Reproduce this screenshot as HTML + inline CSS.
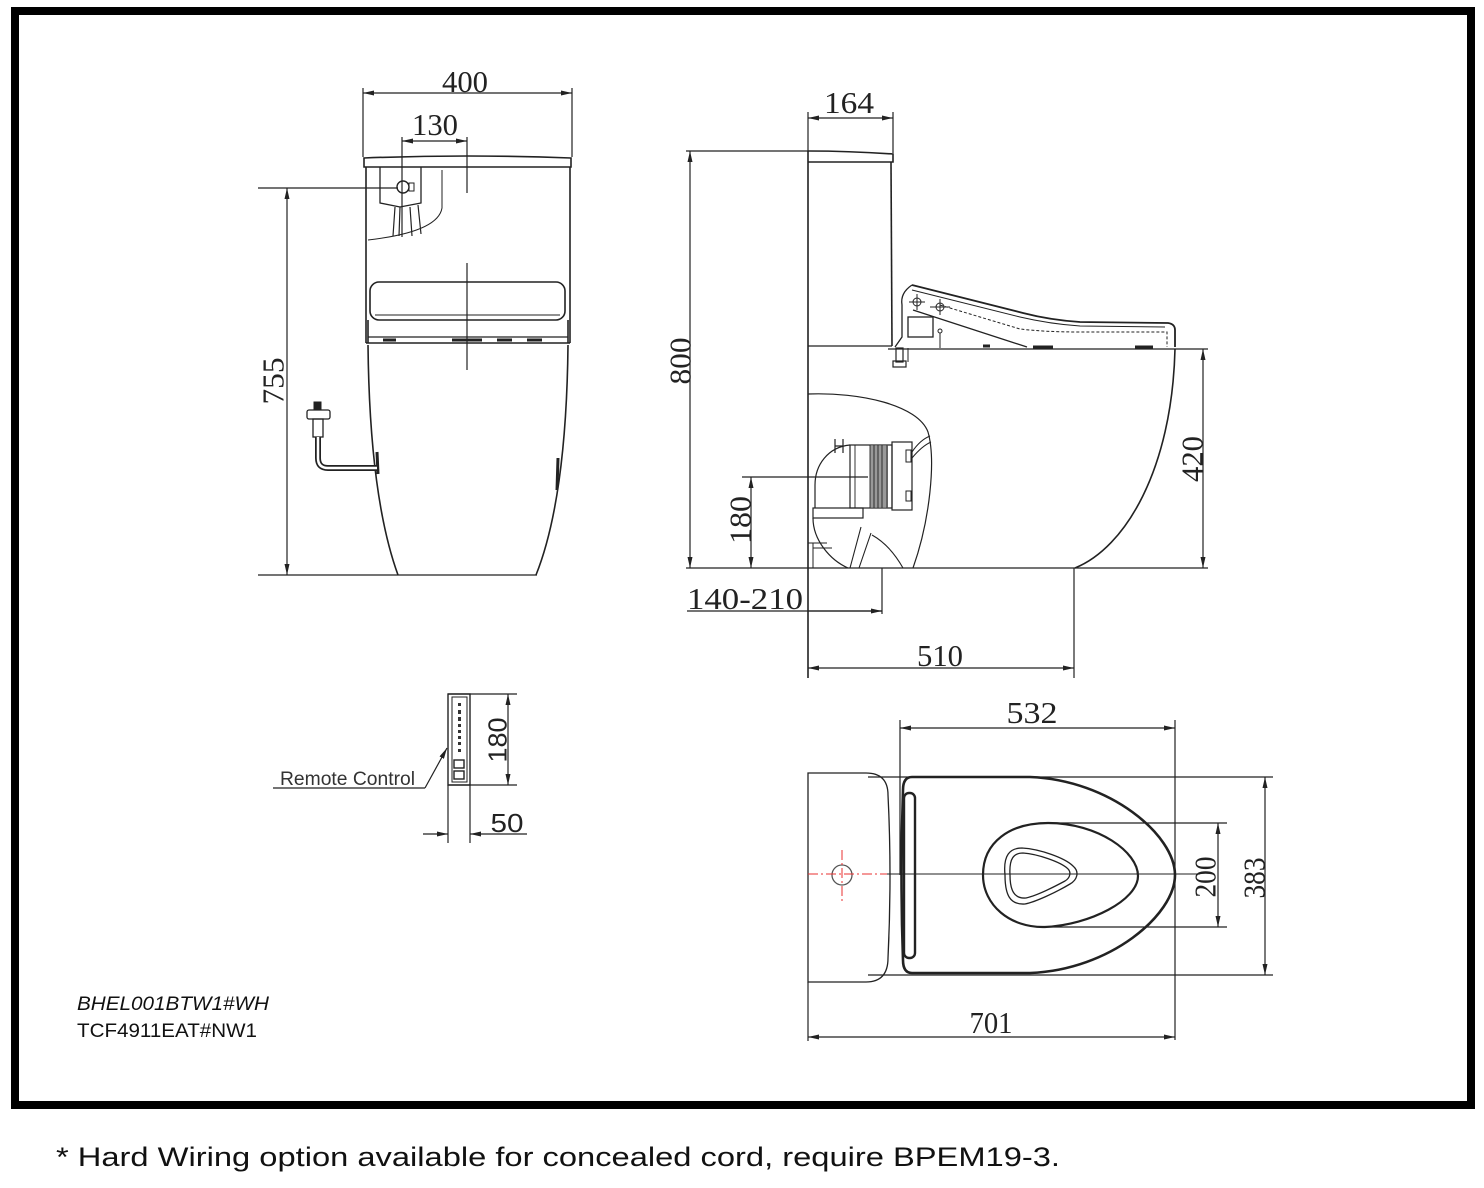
<!DOCTYPE html>
<html><head><meta charset="utf-8"><style>
html,body{margin:0;padding:0;background:#fff;}
svg{display:block;}
.d{font-family:"Liberation Serif",serif;font-size:31px;fill:#222;}
</style></head><body>
<svg width="1484" height="1188" viewBox="0 0 1484 1188" xmlns="http://www.w3.org/2000/svg">
<defs>
<marker id="a" viewBox="0 0 11 5" refX="11" refY="2.5" markerWidth="11" markerHeight="5" markerUnits="userSpaceOnUse" orient="auto-start-reverse"><path d="M0,0 L11,2.5 L0,5 z" fill="#222"/></marker>
</defs>
<rect x="0" y="0" width="1484" height="1188" fill="#fff"/>
<rect x="15" y="11" width="1456" height="1094" fill="none" stroke="#000" stroke-width="8"/>

<!-- FRONT VIEW -->
<g fill="none" stroke="#222" stroke-width="1.2">
<line x1="363" y1="93" x2="572" y2="93" marker-start="url(#a)" marker-end="url(#a)"/>
<line x1="363" y1="88" x2="363" y2="157"/>
<line x1="572" y1="88" x2="572" y2="157"/>
<line x1="402" y1="141" x2="467" y2="141" marker-start="url(#a)" marker-end="url(#a)"/>
<line x1="402" y1="137" x2="402" y2="237"/>
<line x1="467" y1="137" x2="467" y2="193"/>
<line x1="467" y1="263" x2="467" y2="370"/>
<line x1="258" y1="188" x2="398" y2="188"/>
<line x1="287" y1="188" x2="287" y2="575" marker-start="url(#a)" marker-end="url(#a)"/>
<line x1="258" y1="575" x2="537" y2="575"/>
</g>
<g fill="none" stroke="#222" stroke-width="1.6">
<path d="M364,158 Q467,154 571,158 L571,167 L364,167 Z"/>
<line x1="366" y1="167" x2="366" y2="343"/>
<line x1="570" y1="167" x2="570" y2="343"/>
<path d="M380,167 L380,203 L400,207 L421,203 L421,167" stroke-width="1.3"/>
<path d="M442,170 L442,208 Q438,232 368,240" stroke-width="1"/>
<circle cx="403" cy="187" r="6" stroke-width="1.4"/>
<rect x="409" y="183" width="5" height="8" stroke-width="1"/>
<path d="M395,207 L393,236 M400,207 L399,236 M410,207 L412,236 M418,205 L421,234" stroke-width="1.2"/>
<rect x="370" y="282" width="195" height="38" rx="9"/>
<line x1="375" y1="315" x2="560" y2="315" stroke-width="1"/>
<line x1="368" y1="320" x2="368" y2="343"/>
<line x1="568" y1="320" x2="568" y2="343"/>
<line x1="368" y1="337" x2="568" y2="337" stroke-width="1.2"/>
<line x1="366" y1="343" x2="570" y2="343" stroke-width="1.4"/>
<path d="M383,340 L396,340 M452,340 L482,340 M497,340 L512,340 M527,340 L542,340" stroke-width="3"/>
<path d="M368,345 C369,440 378,520 398,575"/>
<path d="M568,345 C567,440 558,520 536,575"/>
<path d="M377,452 L378,474" stroke-width="3"/>
<path d="M558,458 L557,490" stroke-width="3"/>
<rect x="314" y="402" width="7" height="7" fill="#222" stroke-width="1"/>
<rect x="307" y="410" width="23" height="9" rx="2" stroke-width="1.3"/>
<rect x="313" y="419" width="10" height="18" stroke-width="1.3"/>
<path d="M318,437 L318,458 Q318,468 328,468 L377,468" stroke-width="6" stroke="#222"/>
<path d="M318,437 L318,458 Q318,468 328,468 L377,468" stroke-width="2.5" stroke="#fff"/>
</g>
<text class="d" x="465" y="92" text-anchor="middle" textLength="46" lengthAdjust="spacingAndGlyphs">400</text>
<text class="d" x="435" y="135" text-anchor="middle" textLength="46" lengthAdjust="spacingAndGlyphs">130</text>
<text class="d" transform="translate(273,381) rotate(-90)" text-anchor="middle" dy="0.34em" textLength="47" lengthAdjust="spacingAndGlyphs">755</text>

<!-- SIDE VIEW -->
<g fill="none" stroke="#222" stroke-width="1.2">
<line x1="808" y1="118" x2="893" y2="118" marker-start="url(#a)" marker-end="url(#a)"/>
<line x1="808" y1="112" x2="808" y2="152"/>
<line x1="893" y1="112" x2="893" y2="153"/>
<line x1="686" y1="151" x2="808" y2="151"/>
<line x1="690" y1="151" x2="690" y2="568" marker-start="url(#a)" marker-end="url(#a)"/>
<line x1="686" y1="568" x2="1208" y2="568"/>
<line x1="888" y1="349" x2="1208" y2="349"/>
<line x1="1203" y1="349" x2="1203" y2="568" marker-start="url(#a)" marker-end="url(#a)"/>
<line x1="1074" y1="568" x2="1074" y2="678"/>
<line x1="808" y1="668" x2="1074" y2="668" marker-start="url(#a)" marker-end="url(#a)"/>
<line x1="687" y1="611" x2="882" y2="611"/>
<line x1="808" y1="611" x2="882" y2="611" marker-end="url(#a)"/>
<line x1="882" y1="568" x2="882" y2="614"/>
<line x1="742" y1="477" x2="868" y2="477"/>
<line x1="751" y1="477" x2="751" y2="568" marker-start="url(#a)" marker-end="url(#a)"/>
</g>
<g fill="none" stroke="#222" stroke-width="1.6">
<path d="M808,151 Q850,151 893,154 L893,162 L808,162"/>
<line x1="808" y1="151" x2="808" y2="678"/>
<path d="M891,162 L892,346"/>
<line x1="808" y1="346" x2="892" y2="346" stroke-width="1.2"/>
<path d="M1175,349 C1172,470 1125,548 1075,568"/>
<!-- seat -->
<path d="M912,285 L1023,313 Q1050,320 1080,322 L1168,323 Q1175,324 1175,330 L1175,347" stroke-width="1.8"/>
<path d="M912,290 L1020,317 Q1050,324 1080,326 L1165,327" stroke-width="1"/>
<path d="M940,305 L1020,329 Q1045,332 1080,332 L1167,332 L1167,347" stroke-width="1" stroke-dasharray="3,2"/>
<path d="M913,310 L1027,347" stroke-width="1.3"/>
<path d="M912,285 Q900,293 902,305 L902,337 L895,347" stroke-width="1.3"/>
<rect x="908" y="317" width="25" height="20" stroke-width="1.3"/>
<circle cx="917" cy="302" r="4" stroke-width="1"/>
<path d="M909,302 L925,302 M917,294 L917,310" stroke-width="1"/>
<circle cx="940" cy="307" r="4" stroke-width="1"/>
<path d="M930,307 L950,307 M940,299 L940,315" stroke-width="1"/>
<line x1="940" y1="333" x2="940" y2="348" stroke-width="1"/>
<circle cx="940" cy="331" r="2" stroke-width="1"/>
<rect x="896" y="348" width="7" height="14" stroke-width="1.2"/>
<rect x="893" y="361" width="13" height="6" stroke-width="1.2"/>
<line x1="908" y1="348" x2="908" y2="362" stroke-width="1"/>
<path d="M1033,347 L1053,347 M1135,347 L1153,347 M983,346 L990,346" stroke-width="3"/>
<!-- trap -->
<path d="M808,394 C860,392 918,405 928,432 C936,460 930,520 913,568" stroke-width="1.2"/>
<path d="M850,445 C828,447 815,465 815,485 L815,508" stroke-width="1.2"/>
<rect x="813" y="508" width="50" height="10" stroke-width="1.2"/>
<path d="M813,518 C813,540 830,560 848,568" stroke-width="1.2"/>
<rect x="850" y="445" width="42" height="63" stroke-width="1.2"/>
<rect x="870" y="446" width="18" height="61" fill="#999" stroke="none"/>
<path d="M855,445 L855,508 M870,445 L870,508 M874,445 L874,508 M878,445 L878,508 M882,445 L882,508 M887,445 L887,508" stroke-width="0.9"/>
<rect x="892" y="442" width="20" height="68" stroke-width="1.2"/>
<rect x="906" y="450" width="5" height="12" stroke-width="1"/>
<rect x="906" y="491" width="5" height="10" stroke-width="1"/>
<path d="M912,452 Q920,440 930,436 M912,458 Q922,446 931,442" stroke-width="1"/>
<path d="M835,439 L835,453 M843,439 L843,453 M835,446 L843,446" stroke-width="1.2"/>
<path d="M861,527 L850,568 M871,533 L859,568" stroke-width="1.1"/>
<path d="M872,535 Q890,545 903,568" stroke-width="1.1"/>
<path d="M808,543 L827,543 M813,543 L813,568 M813,548 L832,548" stroke-width="1"/>
</g>
<text class="d" x="849" y="113" text-anchor="middle" textLength="50" lengthAdjust="spacingAndGlyphs">164</text>
<text class="d" transform="translate(680,361) rotate(-90)" text-anchor="middle" dy="0.34em" textLength="47" lengthAdjust="spacingAndGlyphs">800</text>
<text class="d" transform="translate(1192,459) rotate(-90)" text-anchor="middle" dy="0.34em" textLength="46" lengthAdjust="spacingAndGlyphs">420</text>
<text class="d" transform="translate(740,520) rotate(-90)" text-anchor="middle" dy="0.34em" textLength="48" lengthAdjust="spacingAndGlyphs">180</text>
<text class="d" x="687" y="609" textLength="116" lengthAdjust="spacingAndGlyphs">140-210</text>
<text class="d" x="940" y="666" text-anchor="middle" textLength="46" lengthAdjust="spacingAndGlyphs">510</text>

<!-- TOP VIEW -->
<g fill="none" stroke="#222" stroke-width="1.2">
<line x1="900" y1="728" x2="1175" y2="728" marker-start="url(#a)" marker-end="url(#a)"/>
<line x1="900" y1="720" x2="900" y2="875"/>
<line x1="1175" y1="720" x2="1175" y2="1040"/>
<line x1="808" y1="982" x2="808" y2="1041"/>
<line x1="808" y1="1037" x2="1175" y2="1037" marker-start="url(#a)" marker-end="url(#a)"/>
<line x1="868" y1="777" x2="1273" y2="777"/>
<line x1="868" y1="975" x2="1273" y2="975"/>
<line x1="1265" y1="777" x2="1265" y2="975" marker-start="url(#a)" marker-end="url(#a)"/>
<line x1="1040" y1="823" x2="1227" y2="823"/>
<line x1="1043" y1="927" x2="1227" y2="927"/>
<line x1="1218" y1="823" x2="1218" y2="927" marker-start="url(#a)" marker-end="url(#a)"/>
<line x1="887" y1="874" x2="1200" y2="874" stroke-width="1"/>
</g>
<g fill="none" stroke="#222" stroke-width="1.6">
<path d="M808,773 L866,773 Q888,773 888,795 Q892,875 888,958 Q888,982 866,982 L808,982 Z" stroke-width="1.3"/>
<path d="M912,777 L1030,777 C1110,780 1175,835 1175,875 C1175,915 1110,970 1030,973 L912,973 Q903,973 903,960 Q900,875 903,790 Q903,777 912,777 Z" stroke-width="2.6"/>
<rect x="904" y="793" width="11" height="165" rx="5" stroke-width="2.4"/>
<path d="M983,875 C983,842 1010,823 1048,823 C1098,823 1138,852 1138,876 C1138,900 1090,925 1045,927 C1010,928 983,905 983,875 Z" stroke-width="2.2"/>
<path d="M1005,875 C1003,855 1010,848 1022,848 C1040,849 1065,858 1073,866 C1080,872 1077,880 1070,884 C1055,893 1035,902 1025,904 C1010,905 1005,895 1005,875 Z" stroke-width="1.3"/>
<path d="M1010,875 C1009,858 1014,853 1023,853 C1038,854 1060,862 1067,868 C1072,872 1070,878 1065,881 C1052,888 1035,896 1026,898 C1014,899 1010,890 1010,875 Z" stroke-width="1.3"/>
<circle cx="842" cy="875" r="10" stroke="#555" stroke-width="1.3"/>
</g>
<g stroke="#e83030" stroke-width="1" fill="none">
<line x1="808" y1="874" x2="887" y2="874" stroke-dasharray="10,3,2,3"/>
<line x1="842" y1="850" x2="842" y2="904" stroke-dasharray="10,3,2,3"/>
</g>
<text class="d" x="1032" y="723" text-anchor="middle" textLength="51" lengthAdjust="spacingAndGlyphs">532</text>
<text class="d" x="991" y="1033" text-anchor="middle" textLength="43" lengthAdjust="spacingAndGlyphs">701</text>
<text class="d" transform="translate(1254,878) rotate(-90)" text-anchor="middle" dy="0.34em" textLength="41" lengthAdjust="spacingAndGlyphs">383</text>
<text class="d" transform="translate(1205,877) rotate(-90)" text-anchor="middle" dy="0.34em" textLength="41" lengthAdjust="spacingAndGlyphs">200</text>

<!-- REMOTE -->
<g fill="none" stroke="#222" stroke-width="1.2">
<rect x="448" y="694" width="22" height="91" stroke-width="1.4"/>
<rect x="452" y="697" width="15" height="85" stroke-width="1"/>
<line x1="448" y1="694" x2="517" y2="694"/>
<line x1="448" y1="785" x2="517" y2="785"/>
<line x1="508" y1="694" x2="508" y2="785" marker-start="url(#a)" marker-end="url(#a)"/>
<line x1="448" y1="785" x2="448" y2="843"/>
<line x1="470" y1="785" x2="470" y2="843"/>
<line x1="423" y1="834" x2="448" y2="834" marker-end="url(#a)"/>
<line x1="527" y1="834" x2="470" y2="834" marker-end="url(#a)"/>
<line x1="273" y1="788" x2="425" y2="788"/>
<line x1="425" y1="788" x2="447" y2="748" marker-end="url(#a)"/>
<rect x="454" y="760" width="10" height="8" stroke-width="1.4"/>
<rect x="454" y="771" width="10" height="8" stroke-width="1.4"/>
</g>
<g fill="#333">
<rect x="458" y="703" width="3" height="3"/><rect x="458" y="710" width="3" height="4"/>
<rect x="458" y="717" width="3" height="4"/><rect x="458" y="724" width="3" height="3"/>
<rect x="458" y="730" width="3" height="3"/><rect x="458" y="736" width="3" height="3"/>
<rect x="458" y="742" width="3" height="3"/><rect x="458" y="749" width="3" height="3"/>
</g>
<text transform="translate(497,740) rotate(-90)" text-anchor="middle" dy="0.36em" font-family="Liberation Sans, sans-serif" font-size="26" fill="#222" textLength="45" lengthAdjust="spacingAndGlyphs">180</text>
<text x="507" y="832" text-anchor="middle" font-family="Liberation Sans, sans-serif" font-size="26" fill="#222" textLength="33" lengthAdjust="spacingAndGlyphs">50</text>
<text x="280" y="785" font-family="Liberation Sans, sans-serif" font-size="19" fill="#333" textLength="135" lengthAdjust="spacingAndGlyphs">Remote Control</text>

<!-- MODEL TEXT -->
<text x="77" y="1010" font-family="Liberation Sans, sans-serif" font-style="italic" font-size="19" fill="#111" textLength="192" lengthAdjust="spacingAndGlyphs">BHEL001BTW1#WH</text>
<text x="77" y="1037" font-family="Liberation Sans, sans-serif" font-size="19" fill="#111" textLength="180" lengthAdjust="spacingAndGlyphs">TCF4911EAT#NW1</text>

<text x="56" y="1166" font-family="Liberation Sans, sans-serif" font-size="27" fill="#111" textLength="1004" lengthAdjust="spacingAndGlyphs">* Hard Wiring option available for concealed cord, require BPEM19-3.</text>
</svg>
</body></html>
